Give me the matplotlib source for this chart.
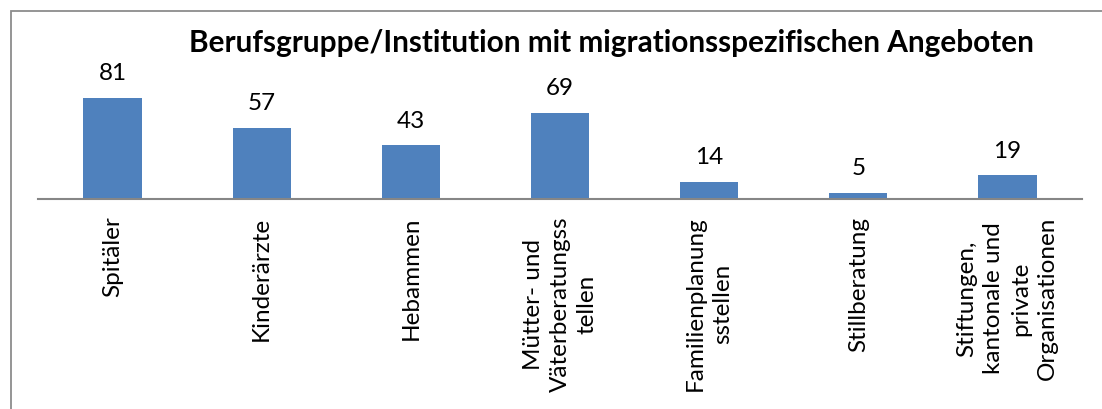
import matplotlib
matplotlib.use("Agg")
import matplotlib.pyplot as plt
from matplotlib.patches import Rectangle

categories = ["Spitäler", "Kinderärzte", "Hebammen",
              "Mütter- und\nVäterberatungss\ntellen",
              "Familienplanung\nsstellen", "Stillberatung",
              "Stiftungen,\nkantonale und\nprivate\nOrganisationen"]
values = [81, 57, 43, 69, 14, 5, 19]
title = "Berufsgruppe/Institution mit migrationsspezifischen Angeboten"

bar_color = "#4F81BD"
font = "Lato"

W, H = 1102, 410
fig = plt.figure(figsize=(W / 100, H / 100), dpi=100)

# outer chart frame (right and bottom edges are cut off in the original)
fig.patches.append(Rectangle((11 / W, -0.1), 1.2, (H - 12) / H + 0.1,
                             transform=fig.transFigure, fill=False,
                             edgecolor="#8C8C8C", linewidth=1.3))

ax = fig.add_axes([38 / W, (H - 200) / H, (1082 - 38) / W, 170 / H])
x = range(len(values))
ax.bar(x, values, width=0.39, color=bar_color)
ax.set_xlim(-0.5, len(values) - 0.5)
ax.set_ylim(0, 170 / 1.247)

for xi, v in zip(x, values):
    ax.annotate(str(v), (xi, v), xytext=(0, 13.5), textcoords="offset points",
                ha="center", va="baseline", fontsize=17.5, family=font)

for s in ["top", "right", "left"]:
    ax.spines[s].set_visible(False)
ax.spines["bottom"].set_color("#868686")
ax.spines["bottom"].set_linewidth(1.5)
ax.set_yticks([])
ax.set_xticks(list(x))
ax.set_xticklabels(categories, rotation=90, ha="center", va="top",
                   multialignment="center", fontsize=17.5, family=font,
                   linespacing=1.35)
ax.tick_params(axis="x", length=0, pad=12)

fig.text(611 / W, (H - 52) / H, title, ha="center", va="baseline",
         fontsize=21.4, fontweight="bold", family=font)

fig.savefig("out.png", dpi=100)
plt.close()
